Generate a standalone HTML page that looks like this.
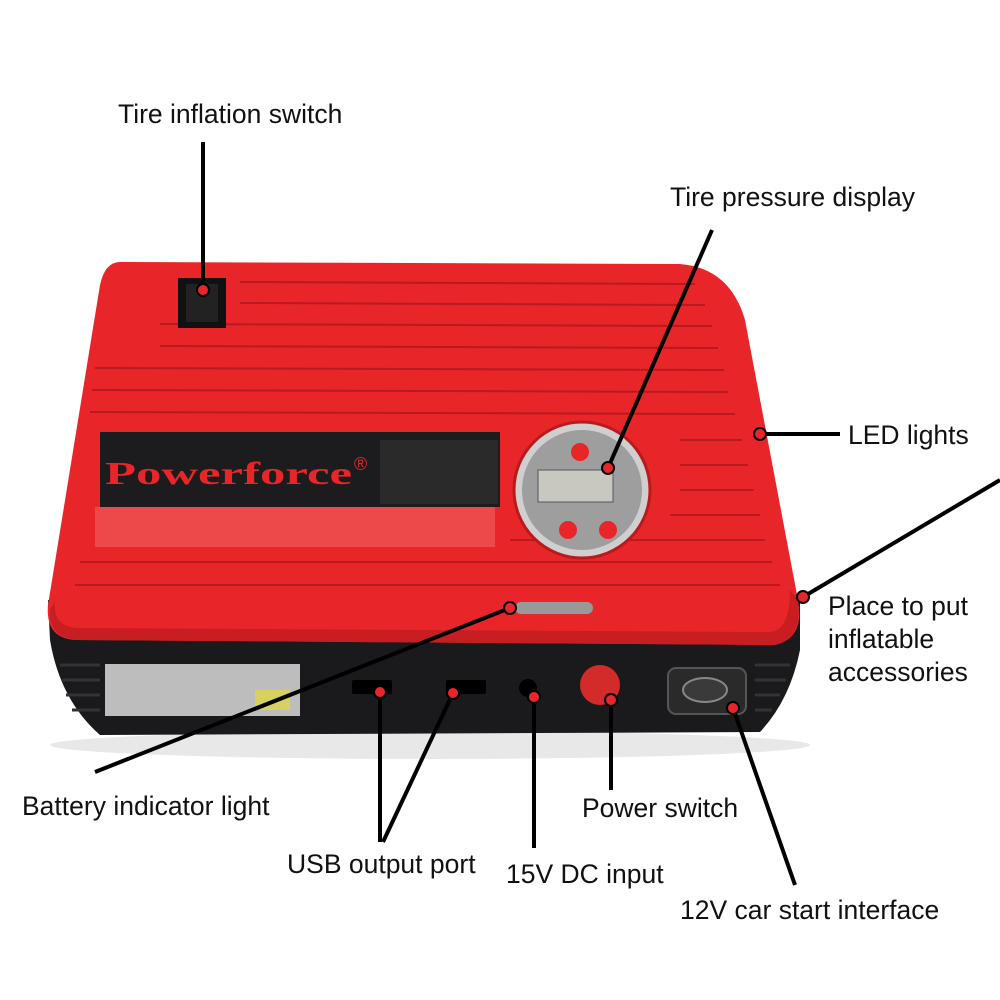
<!DOCTYPE html>
<html><head><meta charset="utf-8"><style>
html,body{margin:0;padding:0;background:#fff;}
svg{display:block}
text{font-family:"Liberation Sans","DejaVu Sans",sans-serif;font-size:26.5px;fill:#111}
</style></head><body>
<svg width="1000" height="1000" viewBox="0 0 1000 1000" xmlns="http://www.w3.org/2000/svg">
<ellipse cx="430" cy="745" rx="380" ry="14" fill="#e8e8e8"/>
<path d="M48,600 L50,640 Q60,700 100,735 L760,732 Q790,700 800,650 L800,600 Z" fill="#1a1a1c"/>
<g stroke="#333" stroke-width="3">
<line x1="60" y1="665" x2="100" y2="665"/><line x1="62" y1="680" x2="100" y2="680"/><line x1="66" y1="695" x2="100" y2="695"/><line x1="72" y1="710" x2="100" y2="710"/>
<line x1="755" y1="665" x2="790" y2="665"/><line x1="755" y1="680" x2="786" y2="680"/><line x1="755" y1="695" x2="780" y2="695"/><line x1="755" y1="710" x2="772" y2="710"/>
</g>
<rect x="105" y="664" width="195" height="52" fill="#bdbdbd"/>
<rect x="255" y="690" width="35" height="20" fill="#d8d060"/>
<rect x="352" y="680" width="40" height="14" rx="2" fill="#000"/>
<rect x="446" y="680" width="40" height="14" rx="2" fill="#000"/>
<circle cx="528" cy="688" r="9" fill="#000"/>
<circle cx="600" cy="685" r="20" fill="#d32a2a"/>
<rect x="668" y="668" width="78" height="46" rx="8" fill="#2a2a2a" stroke="#555" stroke-width="2"/>
<ellipse cx="705" cy="690" rx="22" ry="12" fill="#3a3a3a" stroke="#888" stroke-width="2"/>
<path d="M120,262 L680,264 Q730,268 745,320 L798,600 Q805,638 775,645 L75,640 Q45,638 48,605 L100,285 Q105,262 120,262 Z" fill="#e8262a"/>
<path d="M50,610 Q48,636 75,640 L775,645 Q803,638 798,600 L790,590 Q790,630 770,632 L80,628 Q52,628 55,600 Z" fill="#c81e22"/>
<g stroke="#b81a1e" stroke-width="2">
<line x1="240" y1="282" x2="695" y2="284"/><line x1="240" y1="303" x2="705" y2="305"/><line x1="160" y1="324" x2="712" y2="326"/><line x1="160" y1="346" x2="718" y2="348"/>
<line x1="95" y1="368" x2="724" y2="370"/><line x1="92" y1="390" x2="728" y2="392"/><line x1="90" y1="412" x2="735" y2="414"/>
<line x1="680" y1="440" x2="742" y2="440"/><line x1="680" y1="465" x2="748" y2="465"/><line x1="680" y1="490" x2="754" y2="490"/><line x1="670" y1="515" x2="760" y2="515"/>
<line x1="510" y1="540" x2="765" y2="540"/><line x1="80" y1="562" x2="772" y2="562"/><line x1="75" y1="585" x2="780" y2="585"/>
</g>
<rect x="178" y="278" width="48" height="50" fill="#111"/>
<rect x="186" y="284" width="32" height="38" fill="#222"/>
<rect x="100" y="432" width="400" height="75" fill="#1c1c1e"/>
<rect x="380" y="440" width="118" height="64" fill="#2a2a2a"/>
<rect x="95" y="507" width="400" height="40" fill="#f06060" opacity="0.6"/>
<text x="105" y="484" textLength="247" lengthAdjust="spacingAndGlyphs" style="font-family:'Liberation Serif',serif;font-weight:bold;font-size:32px;fill:#e8262a">Powerforce</text>
<text x="354" y="470" style="font-size:18px;fill:#e8262a">®</text>
<circle cx="582" cy="490" r="68" fill="#cfcfcf" stroke="#b81a1e" stroke-width="3"/>
<circle cx="582" cy="490" r="60" fill="#9e9e9e"/>
<rect x="538" y="470" width="75" height="32" fill="#c8c8c0" stroke="#555"/>
<circle cx="580" cy="452" r="9" fill="#e8262a"/>
<circle cx="568" cy="530" r="9" fill="#e8262a"/>
<circle cx="608" cy="530" r="9" fill="#e8262a"/>
<rect x="515" y="602" width="78" height="12" rx="6" fill="#999"/>
<g stroke="#000" stroke-width="4" fill="none">
<line x1="203" y1="142" x2="203" y2="290"/>
<line x1="712" y1="230" x2="608" y2="468"/>
<line x1="760" y1="434" x2="840" y2="434"/>
<line x1="1000" y1="480" x2="803" y2="597"/>
<line x1="95" y1="772" x2="510" y2="608"/>
<line x1="380" y1="692" x2="380" y2="842"/>
<line x1="453" y1="693" x2="383" y2="842"/>
<line x1="534" y1="697" x2="534" y2="848"/>
<line x1="611" y1="700" x2="611" y2="790"/>
<line x1="733" y1="708" x2="795" y2="885"/>
</g>
<g fill="#e8262a" stroke="#000" stroke-width="2">
<circle cx="203" cy="290" r="6"/><circle cx="608" cy="468" r="6"/><circle cx="760" cy="434" r="6"/>
<circle cx="803" cy="597" r="6"/><circle cx="510" cy="608" r="6"/><circle cx="380" cy="692" r="6"/>
<circle cx="453" cy="693" r="6"/><circle cx="534" cy="697" r="6"/><circle cx="611" cy="700" r="6"/><circle cx="733" cy="708" r="6"/>
</g>
<text x="118" y="123">Tire inflation switch</text>
<text x="670" y="206">Tire pressure display</text>
<text x="848" y="444">LED lights</text>
<text x="828" y="615">Place to put</text>
<text x="828" y="648">inflatable</text>
<text x="828" y="681">accessories</text>
<text x="22" y="815">Battery indicator light</text>
<text x="287" y="873">USB output port</text>
<text x="506" y="883">15V DC input</text>
<text x="582" y="817">Power switch</text>
<text x="680" y="919">12V car start interface</text>
</svg>
</body></html>
